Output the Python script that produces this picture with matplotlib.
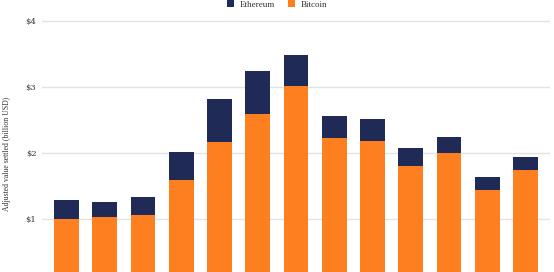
import numpy as np
import matplotlib
matplotlib.use("Agg")
import matplotlib.pyplot as plt

# data (billion USD)
periods = list(range(13))
bitcoin = [1.00, 1.03, 1.06, 1.59, 2.17, 2.59, 3.02, 2.22, 2.18, 1.81, 2.00, 1.44, 1.74]
total = [1.29, 1.26, 1.33, 2.01, 2.82, 3.24, 3.48, 2.56, 2.52, 2.07, 2.24, 1.63, 1.94]
ethereum = [t - b for t, b in zip(total, bitcoin)]

yticks = [1, 2, 3, 4]
ytick_labels = ["$1", "$2", "$3", "$4"]

orange = "#fd7f20"
navy = "#1f2a56"

plt.rcParams["font.family"] = ["DejaVu Serif"]

fig = plt.figure(figsize=(5.54, 2.72), dpi=100)
ax = fig.add_axes([42 / 554, 0, 508 / 554, 1])

x = np.arange(len(periods))
ax.bar(x, bitcoin, width=0.65, color=orange, label="Bitcoin", zorder=2)
ax.bar(x, ethereum, width=0.65, bottom=bitcoin, color=navy, label="Ethereum", zorder=2)

ax.set_xlim(-0.64, 12.64)
ax.set_ylim(0.197, 4.318)
ax.set_yticks(yticks)
ax.set_yticklabels(ytick_labels, fontsize=6, color="#333333")
ax.set_xticks([])
ax.tick_params(axis="y", length=0, pad=4)
ax.grid(axis="y", color="#e3e3e3", linewidth=1, zorder=0)
for s in ax.spines.values():
    s.set_visible(False)

fig.text(7 / 554, 1 - 154 / 272, "Adjusted value settled (billion USD)",
         rotation=90, ha="center", va="center", fontsize=5.6,
         family="Liberation Serif", color="#333333")

handles, labels = ax.get_legend_handles_labels()
fig.legend(handles[::-1], labels[::-1], loc="center", bbox_to_anchor=(0.5, 1 - 4.5 / 272),
           ncol=2, frameon=False, handlelength=0.8, handleheight=0.8,
           columnspacing=1.5, handletextpad=0.6, labelcolor="#333333",
           borderpad=0, prop={"family": "Liberation Serif", "size": 6.5})

fig.savefig("out.png", dpi=100)
